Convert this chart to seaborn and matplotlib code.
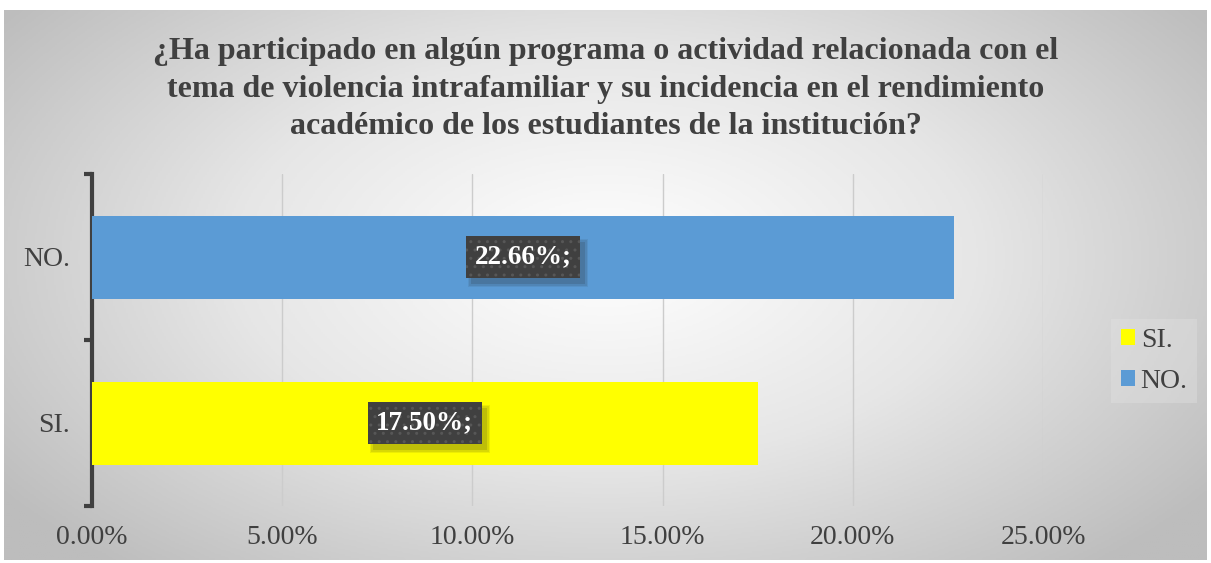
import numpy as np
import matplotlib
matplotlib.use("Agg")
import matplotlib.pyplot as plt
import matplotlib.ticker as mticker
import matplotlib.transforms as mtransforms
from matplotlib.colors import LinearSegmentedColormap
from matplotlib.patches import Patch, Rectangle
import seaborn as sns
import pandas as pd

categorias = ["SI.", "NO."]
porcentajes = [17.50, 22.66]
etiquetas = ["17.50%;", "22.66%;"]
colores = {"SI.": "#FFFF00", "NO.": "#5B9BD5"}
titulo = ("¿Ha participado en algún programa o actividad relacionada con el\n"
          "tema de violencia intrafamiliar y su incidencia en el rendimiento\n"
          "académico de los estudiantes de la institución?")
xticks = [0, 5, 10, 15, 20, 25]
orden_y = ["NO.", "SI."]

df = pd.DataFrame({"categoria": categorias, "valor": porcentajes})

sns.set_theme(style="white")
plt.rcParams["font.family"] = ["Liberation Serif", "DejaVu Serif"]
gris = "#404040"

fig = plt.figure(figsize=(12.11, 5.63), dpi=100)
fig.patch.set_facecolor("white")

# fondo con degradado radial
bg = fig.add_axes([4 / 1211, 3 / 563, 1203 / 1211, 550 / 563], zorder=-10)
yy, xx = np.mgrid[0:1:300j, 0:1:600j]
r = np.sqrt(((xx - 0.5) / 0.62) ** 2 + ((yy - 0.45) / 0.75) ** 2)
cmap = LinearSegmentedColormap.from_list("fondo", ["#ffffff", "#e6e6e6", "#bdbdbd"])
bg.imshow(np.clip(r, 0, 1), cmap=cmap, aspect="auto", extent=[0, 1, 0, 1],
          origin="upper", vmin=0, vmax=1)
bg.set_axis_off()

ax = fig.add_axes([92 / 1211, 1 - 506 / 563, (1043 - 92) / 1211, (506 - 174) / 563])
ax.set_facecolor("none")

sns.barplot(data=df, x="valor", y="categoria", hue="categoria",
            order=orden_y, hue_order=categorias, palette=colores,
            dodge=False, width=0.5, saturation=1, linewidth=0,
            legend=False, ax=ax, zorder=3)

ax.set_xlim(0, 25)
ax.set_xticks(xticks)
ax.xaxis.set_major_formatter(mticker.FuncFormatter(lambda v, p: f"{v:.2f}%"))
ax.grid(axis="x", color="#cccccc", linewidth=1, zorder=0)
ax.set_axisbelow(True)
ax.set_xlabel("")
ax.set_ylabel("")

for s in ["top", "right", "bottom"]:
    ax.spines[s].set_visible(False)
ax.spines["left"].set_color(gris)
ax.spines["left"].set_linewidth(3)

ax.tick_params(axis="x", length=0, labelsize=20, labelcolor=gris, pad=14)
ax.tick_params(axis="y", which="major", left=True, length=0, labelsize=20,
               labelcolor=gris, pad=16)
ax.set_yticks([-0.5, 0.5, 1.5], minor=True)
ax.tick_params(axis="y", which="minor", left=True, length=6, width=3, color=gris)

# etiquetas de datos
textos = []
for cat, val, lab in zip(categorias, porcentajes, etiquetas):
    ypos = orden_y.index(cat)
    t = ax.text(val / 2, ypos, lab, ha="center", va="center", color="white",
                fontsize=19.5, fontweight="bold", zorder=5,
                bbox=dict(boxstyle="square,pad=0.32", fc="#404040", ec="#575757",
                          lw=0, hatch=".."))
    textos.append(t)

# sombra difusa detras de cada etiqueta
fig.canvas.draw()
renderer = fig.canvas.get_renderer()
ident = mtransforms.IdentityTransform()
for t in textos:
    bb = t.get_bbox_patch().get_window_extent(renderer)
    for grow, a in [(3, 0.08), (1.5, 0.10), (0, 0.14)]:
        ax.add_patch(Rectangle((bb.x0 + 5 - grow, bb.y0 - 6 - grow),
                               bb.width + 2 * grow, bb.height + 2 * grow,
                               transform=ident, fc="#202020", ec="none",
                               alpha=a, zorder=4))

fig.text(0.5, 1 - 89 / 563, titulo, ha="center", va="center", fontsize=23,
         fontweight="bold", color=gris, linespacing=1.38)

handles = [Patch(facecolor=colores[c], edgecolor="none", label=c) for c in categorias]
leg = ax.legend(handles=handles, loc="center left", bbox_to_anchor=(1.072, 0.437),
                borderaxespad=0, fontsize=20, frameon=True, handlelength=0.5,
                handleheight=0.5, handletextpad=0.2, labelspacing=0.55,
                borderpad=0.35, fancybox=False)
leg.get_frame().set_facecolor("#e2e2e2")
leg.get_frame().set_edgecolor("none")
leg.get_frame().set_alpha(0.4)
for t in leg.get_texts():
    t.set_color(gris)

fig.savefig("out.png", dpi=100)
